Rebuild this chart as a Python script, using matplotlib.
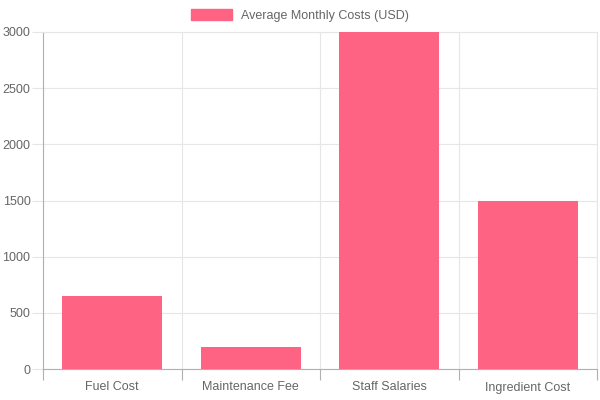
import matplotlib
matplotlib.use("Agg")
import matplotlib.pyplot as plt
from matplotlib.patches import Patch
import numpy as np

categories = ["Fuel Cost", "Maintenance Fee", "Staff Salaries", "Ingredient Cost"]
costs = [650, 200, 3000, 1500]
series_label = "Average Monthly Costs (USD)"
y_ticks = [0, 500, 1000, 1500, 2000, 2500, 3000]

bar_color = "#FF6384"
text_color = "#666666"
grid_color = "#e6e6e6"
axis_color = "#b0b0b0"

plt.rcParams["font.family"] = ["Liberation Sans", "DejaVu Sans"]
plt.rcParams["font.size"] = 9

fig = plt.figure(figsize=(6, 4), dpi=100)
ax = fig.add_axes([43 / 600, 1 - 369 / 400, (597 - 43) / 600, (369 - 32) / 400])

x = np.arange(len(categories))
ax.bar(x, costs, width=0.72, color=bar_color, zorder=3)

ax.set_xlim(-0.5, len(categories) - 0.5)
ax.set_ylim(0, 3000)

# grid lines between categories, like chart.js offset grid
ax.set_xticks(x)
ax.set_xticklabels(categories, color=text_color)
ax.set_xticks(np.arange(-0.5, len(categories)), minor=True)
ax.tick_params(axis="x", which="major", length=0, pad=9)
ax.tick_params(axis="x", which="minor", length=8, color=axis_color, width=0.8)
ax.grid(axis="x", which="minor", color=grid_color, linewidth=0.8, zorder=0)

ax.set_yticks(y_ticks)
ax.set_yticklabels([str(v) for v in y_ticks], color=text_color)
ax.tick_params(axis="y", length=8, color=grid_color, width=0.8, pad=1)
ax.grid(axis="y", which="major", color=grid_color, linewidth=0.8, zorder=0)

for side in ["top", "right"]:
    ax.spines[side].set_color(grid_color)
    ax.spines[side].set_linewidth(0.8)
for side in ["left", "bottom"]:
    ax.spines[side].set_color(axis_color)
    ax.spines[side].set_linewidth(0.8)

handles = [Patch(facecolor=bar_color, edgecolor=bar_color)]
fig.legend(handles, [series_label], loc="upper center", bbox_to_anchor=(0.5, 1.0),
           frameon=False, handlelength=3.3, handleheight=1.0, handletextpad=0.7,
           labelcolor=text_color, borderaxespad=0.3)

fig.savefig("out.png", dpi=100)
